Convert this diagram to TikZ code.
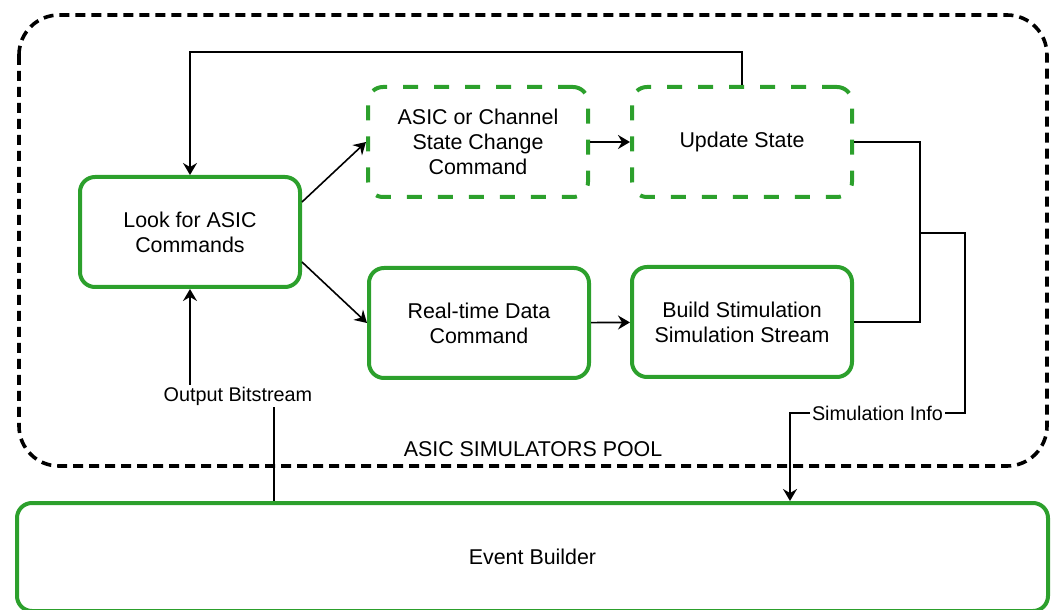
\documentclass[tikz,border=0pt]{standalone}
\usepackage{fontspec}
\setmainfont{Liberation Sans}
\usetikzlibrary{arrows.meta}
\definecolor{boxgreen}{RGB}{44,160,44}

\begin{document}
\begin{tikzpicture}[x=0.5pt, y=-0.5pt,
	greenbox/.style={draw=boxgreen, line width=2pt, rounded corners=7.5pt, align=center, minimum width=110pt, minimum height=55pt, font=\fontsize{10.7}{12.5}\selectfont},
	dashbox/.style={greenbox, dash pattern=on 7.5pt off 8pt},
	wire/.style={line width=0.8pt},
	conn/.style={wire, -{Stealth[length=6pt, width=7pt, inset=2pt]}},
	lbl/.style={fill=white, inner sep=1pt, font=\fontsize{9.9}{11.7}\selectfont}]
	\useasboundingbox (0,0) rectangle (1057,610);
	% simulators pool
	\draw [line width=1.8pt, dash pattern=on 5pt off 3pt, rounded corners=20pt] (19,15) rectangle (1047,466);
	\node [font=\fontsize{10.7}{12.5}\selectfont] (poolname) at (533,449) {ASIC SIMULATORS POOL};
	% boxes
	\node [greenbox] (look) at (190,232) {Look for ASIC\\Commands};
	\node [dashbox] (change) at (478,142) {ASIC or Channel\\State Change\\Command};
	\node [dashbox] (update) at (742,142) {Update State};
	\node [greenbox] (realtime) at (479,323) {Real-time Data\\Command};
	\node [greenbox] (build) at (742,322) {Build Stimulation\\Simulation Stream};
	\node [greenbox, minimum width=515.5pt, minimum height=54pt] (event) at (532.5,557) {Event Builder};
	% helper points
	\coordinate (loopy) at (0,52);
	\coordinate (merge) at (920,233);
	\coordinate (infoturn) at (965,413);
	\coordinate (infodrop) at (790,413);
	\coordinate (bitturn) at (274,396);
	% connectors
	\draw [conn] (update.north) -- (update.north |- loopy) -| (look.north);
	\draw [conn] (look.15) -- (change.west);
	\draw [conn] (look.-15) -- (realtime.west);
	\draw [conn] (change) -- (update);
	\draw [conn] (realtime) -- (build);
	\draw [wire] (update.east) -| (merge);
	\draw [wire] (build.east) -| (merge);
	\draw [conn] (merge) -| (infoturn) -- node [lbl] {Simulation Info} (infodrop) -- (infodrop |- event.north);
	\draw [conn] (bitturn |- event.north) -- (bitturn) -- node [lbl, pos=0.43] {Output Bitstream} (bitturn -| look.south) -- (look.south);
\end{tikzpicture}
\end{document}
